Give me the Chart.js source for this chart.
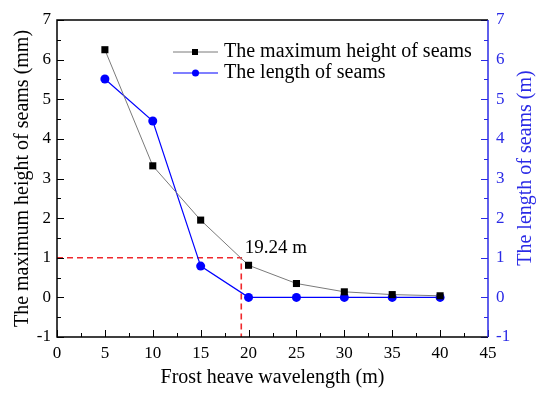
<!DOCTYPE html>
<html>
<head>
<meta charset="utf-8">
<script src="https://cdn.jsdelivr.net/npm/chart.js@4.4.1/dist/chart.umd.min.js"></script>
<style>
  html, body { margin: 0; padding: 0; background: #fff; }
  #box { width: 550px; height: 399px; }
</style>
</head>
<body>
<div id="box"><canvas id="chart"></canvas></div>
<script>
// data
const wavelengths = [5, 10, 15, 20, 25, 30, 35, 40];
const maxHeight = [6.25, 3.32, 1.95, 0.81, 0.35, 0.14, 0.07, 0.04];
const seamLength = [5.51, 4.45, 0.79, 0, 0, 0, 0, 0];
const markX = 19.24;
const markY = 1;
const xTicks = [0, 5, 10, 15, 20, 25, 30, 35, 40, 45];
const yTicks = [-1, 0, 1, 2, 3, 4, 5, 6, 7];

const serif = "'Liberation Serif', 'Times New Roman', serif";
const blue = "#0000ff";
const blueAxis = "#2a2ae6";

function pts(xs, ys) {
  return xs.map(function(x, i) { return { x: x, y: ys[i] }; });
}

// frame, inward ticks, titles, legend, label
const extras = {
  id: "extras",
  afterDraw: function(chart) {
    const ctx = chart.ctx;
    const a = chart.chartArea;
    const sx = chart.scales.x, sy = chart.scales.y, sy2 = chart.scales.y2;
    ctx.save();
    ctx.lineWidth = 1;

    // ticks on x axis
    ctx.strokeStyle = "#000";
    ctx.beginPath();
    for (let v = 0; v <= 45; v += 2.5) {
      const px = Math.round(sx.getPixelForValue(v)) + 0.5;
      const len = (v % 5 === 0) ? 7 : 4;
      ctx.moveTo(px, a.bottom);
      ctx.lineTo(px, a.bottom - len);
    }
    // ticks on left y
    for (let v = -1; v <= 7; v += 0.5) {
      const py = Math.round(sy.getPixelForValue(v)) + 0.5;
      const len = (v % 1 === 0) ? 7 : 4;
      ctx.moveTo(a.left, py);
      ctx.lineTo(a.left + len, py);
    }
    ctx.stroke();

    // ticks on right y
    ctx.strokeStyle = blueAxis;
    ctx.beginPath();
    for (let v = -1; v <= 7; v += 0.5) {
      const py = Math.round(sy2.getPixelForValue(v)) + 0.5;
      const len = (v % 1 === 0) ? 7 : 4;
      ctx.moveTo(a.right, py);
      ctx.lineTo(a.right - len, py);
    }
    ctx.stroke();

    // frame
    ctx.lineWidth = 1.5;
    ctx.strokeStyle = "#000";
    ctx.beginPath();
    ctx.moveTo(a.right, a.top);
    ctx.lineTo(a.left, a.top);
    ctx.lineTo(a.left, a.bottom);
    ctx.lineTo(a.right, a.bottom);
    ctx.stroke();
    ctx.strokeStyle = blueAxis;
    ctx.beginPath();
    ctx.moveTo(a.right, a.top);
    ctx.lineTo(a.right, a.bottom);
    ctx.stroke();

    // axis titles
    ctx.font = "20px " + serif;
    ctx.textAlign = "center";
    ctx.textBaseline = "middle";
    ctx.fillStyle = "#000";
    ctx.fillText("Frost heave wavelength (m)", (a.left + a.right) / 2, 378);

    ctx.save();
    ctx.translate(23, (a.top + a.bottom) / 2);
    ctx.rotate(-Math.PI / 2);
    ctx.fillText("The maximum height of seams (mm)", 0, 0);
    ctx.restore();

    ctx.save();
    ctx.fillStyle = blueAxis;
    ctx.translate(526, 168);
    ctx.rotate(-Math.PI / 2);
    ctx.fillText("The length of seams (m)", 0, 0);
    ctx.restore();

    // legend
    const ds = chart.data.datasets;
    const rows = [52, 73];
    for (let i = 0; i < 2; i++) {
      const d = ds[i];
      const y = rows[i];
      ctx.strokeStyle = d.borderColor;
      ctx.lineWidth = d.borderWidth;
      ctx.beginPath();
      ctx.moveTo(173, y);
      ctx.lineTo(218, y);
      ctx.stroke();
      ctx.fillStyle = d.pointBackgroundColor;
      if (d.pointStyle === "rect") {
        ctx.fillRect(192, y - 3, 6, 6);
      } else {
        ctx.beginPath();
        ctx.arc(195.5, y, 3.5, 0, Math.PI * 2);
        ctx.fill();
      }
      ctx.fillStyle = "#000";
      ctx.textAlign = "left";
      ctx.textBaseline = "middle";
      ctx.font = "20px " + serif;
      ctx.fillText(d.label, 224, y);
    }

    // annotation
    ctx.fillStyle = "#000";
    ctx.font = "19px " + serif;
    ctx.textAlign = "left";
    ctx.fillText(markX + " m", sx.getPixelForValue(19.6), sy.getPixelForValue(1.25));
    ctx.restore();
  }
};

new Chart(document.getElementById("chart"), {
  type: "line",
  data: {
    datasets: [
      {
        label: "The maximum height of seams",
        data: pts(wavelengths, maxHeight),
        yAxisID: "y",
        borderColor: "#7a7a7a",
        borderWidth: 1,
        pointStyle: "rect",
        pointRadius: 5,
        pointBackgroundColor: "#000",
        pointBorderColor: "#000",
        pointBorderWidth: 0,
        tension: 0,
        order: 1
      },
      {
        label: "The length of seams",
        data: pts(wavelengths, seamLength),
        yAxisID: "y2",
        borderColor: blue,
        borderWidth: 1.2,
        pointStyle: "circle",
        pointRadius: 4.5,
        pointBackgroundColor: blue,
        pointBorderColor: blue,
        pointBorderWidth: 0,
        tension: 0,
        order: 2
      },
      {
        label: "marker",
        data: [{ x: 0, y: markY }, { x: markX, y: markY }, { x: markX, y: -1 }],
        yAxisID: "y",
        borderColor: "#f0282d",
        borderWidth: 1.6,
        borderDash: [6, 4],
        pointRadius: 0,
        tension: 0,
        order: 3
      }
    ]
  },
  options: {
    responsive: true,
    maintainAspectRatio: false,
    animation: false,
    layout: { padding: { top: 20, left: 0, right: 0, bottom: 0 } },
    plugins: { legend: { display: false }, tooltip: { enabled: false } },
    scales: {
      x: {
        type: "linear",
        min: 0,
        max: 45,
        afterFit: function(s) { s.height = 62; },
        afterBuildTicks: function(s) { s.ticks = xTicks.map(function(v) { return { value: v }; }); },
        grid: { display: false, drawTicks: false },
        border: { display: false },
        ticks: { color: "#000", font: { family: serif, size: 17 }, padding: 6, maxRotation: 0, autoSkip: false }
      },
      y: {
        type: "linear",
        position: "left",
        min: -1,
        max: 7,
        afterFit: function(s) { s.width = 57; },
        afterBuildTicks: function(s) { s.ticks = yTicks.map(function(v) { return { value: v }; }); },
        grid: { display: false, drawTicks: false },
        border: { display: false },
        ticks: { color: "#000", font: { family: serif, size: 17 }, padding: 6 }
      },
      y2: {
        type: "linear",
        position: "right",
        min: -1,
        max: 7,
        afterFit: function(s) { s.width = 62; },
        afterBuildTicks: function(s) { s.ticks = yTicks.map(function(v) { return { value: v }; }); },
        grid: { display: false, drawTicks: false },
        border: { display: false },
        ticks: { color: blueAxis, font: { family: serif, size: 17 }, padding: 8 }
      }
    }
  },
  plugins: [extras]
});
</script>
</body>
</html>
